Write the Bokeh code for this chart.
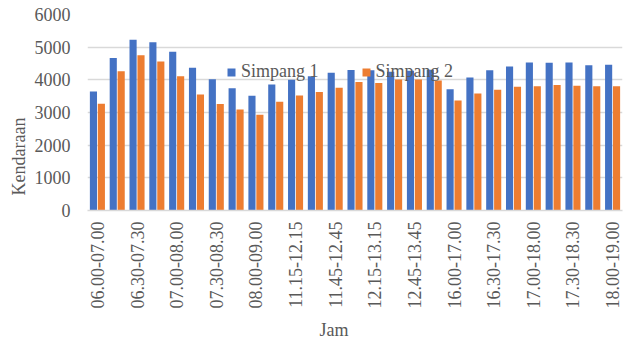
import math

from bokeh.plotting import figure
from bokeh.models import (Range1d, FixedTicker, Legend, LegendItem, Title,
                          ColumnDataSource)
from bokeh.transform import dodge
from bokeh.embed import file_html
from bokeh.resources import INLINE

# Time periods (hourly windows, every 15 minutes within each session)
periods = [
    "06.00-07.00", "06.15-07.15", "06.30-07.30", "06.45-07.45", "07.00-08.00",
    "07.15-08.15", "07.30-08.30", "07.45-08.45", "08.00-09.00",
    "11.00-12.00", "11.15-12.15", "11.30-12.30", "11.45-12.45", "12.00-13.00",
    "12.15-13.15", "12.30-13.30", "12.45-13.45", "13.00-14.00",
    "16.00-17.00", "16.15-17.15", "16.30-17.30", "16.45-17.45", "17.00-18.00",
    "17.15-18.15", "17.30-18.30", "17.45-18.45", "18.00-19.00",
]

# Vehicle counts per intersection
simpang_1 = [3640, 4670, 5230, 5150, 4860, 4370, 4020, 3740, 3510,
             3860, 4000, 4110, 4220, 4300, 4290, 4250, 4280, 4310,
             3710, 4070, 4290, 4410, 4530, 4520, 4530, 4450, 4460]
simpang_2 = [3270, 4260, 4750, 4560, 4110, 3550, 3260, 3090, 2930,
             3330, 3520, 3630, 3760, 3930, 3900, 4010, 4010, 3980,
             3370, 3580, 3700, 3790, 3800, 3840, 3820, 3800, 3800]

y_ticks = [0, 1000, 2000, 3000, 4000, 5000, 6000]

BLUE = "#4472C4"
ORANGE = "#ED7D31"
GREY_TEXT = "#595959"
GRID = "#D9D9D9"
FONT = "Liberation Serif"

positions = list(range(1, len(periods) + 1))
source = ColumnDataSource(dict(x=positions, s1=simpang_1, s2=simpang_2))

p = figure(width=625, height=345, output_backend="svg", toolbar_location=None,
           x_range=Range1d(0.5, len(periods) + 0.5), y_range=Range1d(0, 6000),
           min_border_left=87, min_border_right=3, min_border_top=14,
           min_border_bottom=135)
p.outline_line_color = None
p.background_fill_color = "white"
p.border_fill_color = "white"

r1 = p.vbar(x=dodge("x", -0.2, range=p.x_range), top="s1", width=0.36,
            source=source, fill_color=BLUE, line_color=None)
r2 = p.vbar(x=dodge("x", 0.2, range=p.x_range), top="s2", width=0.36,
            source=source, fill_color=ORANGE, line_color=None)

# Axes: every other period is labelled, text reading upwards
p.xaxis.ticker = FixedTicker(ticks=positions[::2])
p.xaxis.major_label_overrides = {pos: periods[pos - 1] for pos in positions[::2]}
p.xaxis.major_label_orientation = math.pi / 2
p.yaxis.ticker = FixedTicker(ticks=y_ticks)

for ax in (p.xaxis[0], p.yaxis[0]):
    ax.major_tick_line_color = None
    ax.minor_tick_line_color = None
    ax.major_label_text_font = FONT
    ax.major_label_text_font_size = "18px"
    ax.major_label_text_color = GREY_TEXT
p.xaxis.axis_line_color = GRID
p.xaxis.axis_line_width = 1.5
p.xaxis.major_label_standoff = 5
p.yaxis.axis_line_color = None
p.yaxis.major_label_standoff = 11

p.xgrid.grid_line_color = None
p.ygrid.grid_line_color = GRID
p.ygrid.grid_line_width = 1.5

# Axis titles, centred on the plot area including its tick labels
p.add_layout(Title(text="Jam", align="left", offset=232, text_font=FONT,
                   text_font_size="18px", text_font_style="normal",
                   text_color=GREY_TEXT, standoff=12), "below")
p.add_layout(Title(text="Kendaraan", align="left", offset=15, text_font=FONT,
                   text_font_size="18px", text_font_style="normal",
                   text_color=GREY_TEXT, standoff=6), "left")

legend = Legend(items=[LegendItem(label="Simpang 1", renderers=[r1]),
                       LegendItem(label="Simpang 2", renderers=[r2])],
                orientation="horizontal", location=(139, 128),
                background_fill_alpha=0, border_line_color=None,
                label_text_font=FONT, label_text_font_size="18px",
                label_text_color=GREY_TEXT, glyph_width=10, glyph_height=10,
                label_standoff=5, spacing=42, padding=0, margin=0)
p.add_layout(legend)

open("out.html", "w").write(file_html(p, INLINE))
